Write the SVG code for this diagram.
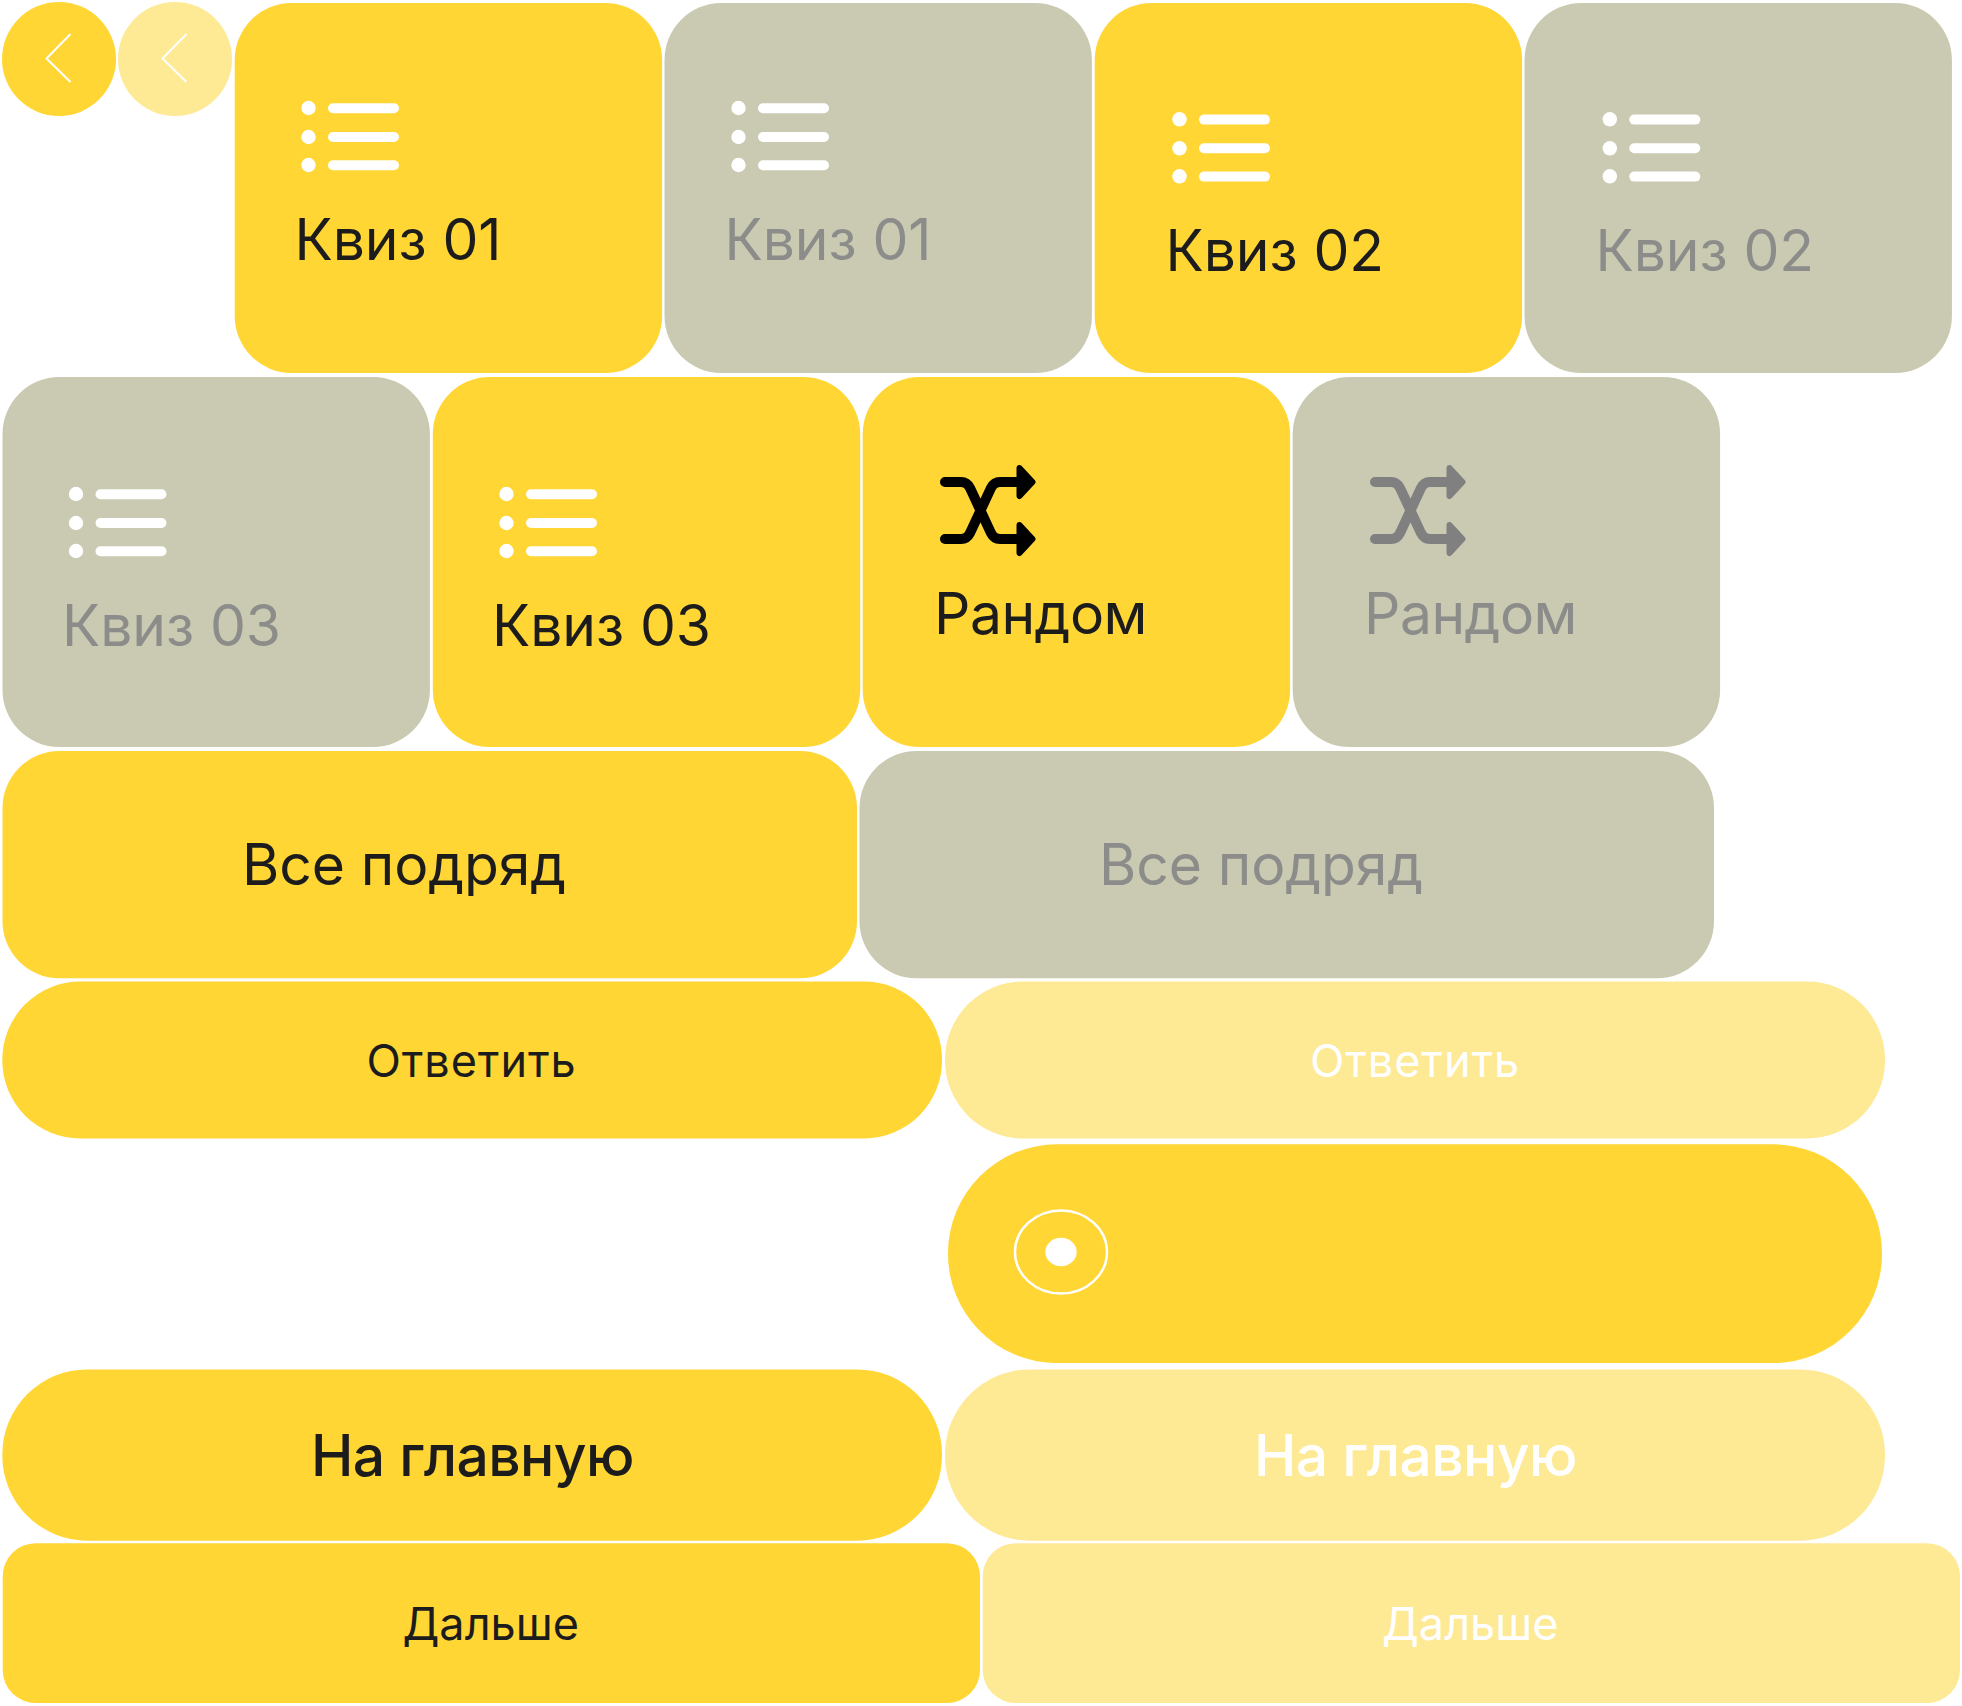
<svg xmlns="http://www.w3.org/2000/svg" xmlns:xlink="http://www.w3.org/1999/xlink" width="1962" height="1706" viewBox="0 0 1962 1706">
<style>
text{font-family:Inter,"Liberation Sans",sans-serif;font-weight:400}
.y{fill:#FFD633}.l{fill:#FEE995}.g{fill:#C9CAB1}
.td{fill:#1C1C1C}.tg{fill:#8C8C8A}.tw{fill:#FFFFFF}
.q{font-size:57px;letter-spacing:-.1px}.r{font-size:57px;letter-spacing:-.5px}.b{font-size:57px;letter-spacing:-.1px}.m{font-size:45px;letter-spacing:.9px}.n{font-size:45px}
.w{fill:#fff}
.c{fill:none;stroke:#fff;stroke-width:2}
.h{font-weight:500;letter-spacing:-.6px}
</style>
<defs>
<g id="list"><circle class="w" cx="308.500" cy="108" r="7.200"/><circle class="w" cx="308.500" cy="137" r="7.200"/><circle class="w" cx="308.500" cy="165" r="7.200"/><rect class="w" x="328" y="103.300" width="71" height="10" rx="5"/><rect class="w" x="328" y="132" width="71" height="10" rx="5"/><rect class="w" x="328" y="160.300" width="71" height="10" rx="5"/></g>
<g id="shuf"><path d="M945 482H961Q967 482 970 488L991 533Q994 539 1000 539H1022M945 539H961Q967 539 970 533L991 488Q994 482 1000 482H1022" fill="none" stroke-width="10" stroke-linecap="round"/><path d="M1019.500 468L1032.500 482L1019.500 496Z M1019.500 525L1032.500 539L1019.500 553Z" stroke-width="6" stroke-linejoin="round"/></g>
</defs>
<rect width="1962" height="1706" fill="#fff"/>
<g id="back1"><circle class="y" cx="59" cy="59" r="57"/><path class="c" d="M70.500 34L46.500 58.500L70.500 82"/></g>
<g id="back2"><circle class="l" cx="175" cy="59" r="57"/><path class="c" d="M186.500 34L162.500 58.500L186.500 82"/></g>
<g id="q1"><rect class="y" x="234.700" y="3" width="427.400" height="370" rx="57"/><use xlink:href="#list"/><text class="q td" x="294.500" y="260">Квиз 01</text></g>
<g id="q1d"><rect class="g" x="664.500" y="3" width="427.400" height="370" rx="57"/><use xlink:href="#list" x="430"/><text class="q tg" x="724.500" y="260">Квиз 01</text></g>
<g id="q2"><rect class="y" x="1094.700" y="3" width="427.400" height="370" rx="57"/><use xlink:href="#list" x="871" y="11.300"/><text class="q td" x="1165.500" y="271">Квиз 02</text></g>
<g id="q2d"><rect class="g" x="1524.500" y="3" width="427.400" height="370" rx="57"/><use xlink:href="#list" x="1301.300" y="11.300"/><text class="q tg" x="1595.500" y="271">Квиз 02</text></g>
<g id="q3d"><rect class="g" x="2.500" y="377" width="427.400" height="370" rx="57"/><use xlink:href="#list" x="-232.500" y="386"/><text class="q tg" x="62" y="646">Квиз 03</text></g>
<g id="q3"><rect class="y" x="432.800" y="377" width="427.400" height="370" rx="57"/><use xlink:href="#list" x="198" y="386"/><text class="q td" x="492" y="646">Квиз 03</text></g>
<g id="r"><rect class="y" x="862.700" y="377" width="427.400" height="370" rx="57"/><use xlink:href="#shuf" fill="#000" stroke="#000"/><text class="r td" x="934" y="634">Рандом</text></g>
<g id="rd"><rect class="g" x="1292.700" y="377" width="427.400" height="370" rx="57"/><use xlink:href="#shuf" x="430" fill="#808080" stroke="#808080"/><text class="r tg" x="1364" y="634">Рандом</text></g>
<g id="all"><rect class="y" x="2.500" y="751" width="854.500" height="227.300" rx="57"/><text class="b td" x="242" y="885">Все подряд</text></g>
<g id="alld"><rect class="g" x="859.500" y="751" width="854.500" height="227.300" rx="57"/><text class="b tg" x="1099" y="885">Все подряд</text></g>
<g id="ans"><rect class="y" x="2.300" y="981.500" width="939.700" height="157" rx="78"/><text class="m td" x="366.500" y="1077">Ответить</text></g>
<g id="ansd"><rect class="l" x="945" y="981.500" width="940" height="157" rx="78"/><text class="m tw" x="1310" y="1077">Ответить</text></g>
<g id="slider"><rect class="y" x="948" y="1144.300" width="934" height="218.700" rx="109"/><ellipse cx="1061" cy="1252" rx="46" ry="41.500" fill="none" stroke="#fff" stroke-width="2.500"/><ellipse class="w" cx="1061" cy="1252" rx="15.700" ry="14.300"/></g>
<g id="home"><rect class="y" x="2.300" y="1369.400" width="939.700" height="171.300" rx="85"/><text class="b td h" x="311" y="1476">На главную</text></g>
<g id="homed"><rect class="l" x="945" y="1369.400" width="940" height="171.300" rx="85"/><text class="b tw h" x="1254" y="1476">На главную</text></g>
<g id="next"><rect class="y" x="2.700" y="1543.300" width="977.300" height="159.700" rx="33"/><text class="n td" x="402.500" y="1640">Дальше</text></g>
<g id="nextd"><rect class="l" x="982.700" y="1543.300" width="977.300" height="159.700" rx="33"/><text class="n tw" x="1382" y="1640">Дальше</text></g>
</svg>
